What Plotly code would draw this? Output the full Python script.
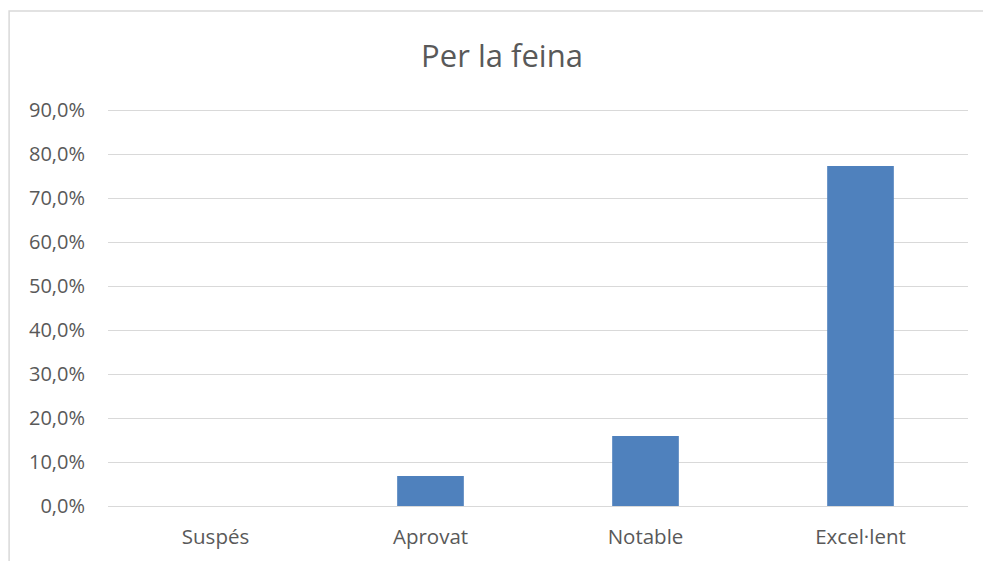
import plotly.graph_objects as go

categories = ['Suspés', 'Aprovat', 'Notable', 'Excel·lent']
values = [0.0, 0.068, 0.159, 0.773]
y_ticks = [0.0, 0.1, 0.2, 0.3, 0.4, 0.5, 0.6, 0.7, 0.8, 0.9]

fig = go.Figure()

fig.add_trace(
    go.Bar(
        x=categories,
        y=values,
        marker=dict(color='#4f81bd', line=dict(width=0)),
        hovertemplate='%{x}: %{y:.1%}<extra></extra>',
    )
)

fig.update_layout(
    title=dict(
        text='Per la feina',
        x=502 / 983, xref='container', xanchor='center',
        y=1 - 56 / 561, yref='container', yanchor='middle',
        font=dict(family='Open Sans', size=31, color='#595959'),
    ),
    width=983,
    height=561,
    margin=dict(l=108, r=15, t=108, b=55),
    paper_bgcolor='white',
    plot_bgcolor='white',
    bargap=0.69,
    showlegend=False,
    separators=',.',
    font=dict(family='Open Sans', size=20, color='#595959'),
    # chart-area border, running off the right and bottom edges
    shapes=[
        dict(
            type='rect', xref='paper', yref='paper',
            x0=-0.115, x1=1.05, y0=-0.2, y1=1.2437,
            line=dict(color='#d9d9d9', width=1.5),
            fillcolor='rgba(0,0,0,0)', layer='below',
        )
    ],
)

fig.update_xaxes(
    showgrid=False,
    showline=False,
    ticks='',
    ticklabelstandoff=16,
    tickfont=dict(size=20.5),
)

fig.update_yaxes(
    range=[0, 0.905],
    tickvals=y_ticks,
    tickformat='.1%',
    showgrid=True,
    gridcolor='#d9d9d9',
    gridwidth=1,
    zeroline=True,
    zerolinecolor='#d9d9d9',
    zerolinewidth=1,
    showline=False,
    ticks='',
    ticklabelstandoff=22,
)

fig.write_html(
    'out.html',
    config={'displayModeBar': False},
    post_script="document.body.style.margin='0';",
)
